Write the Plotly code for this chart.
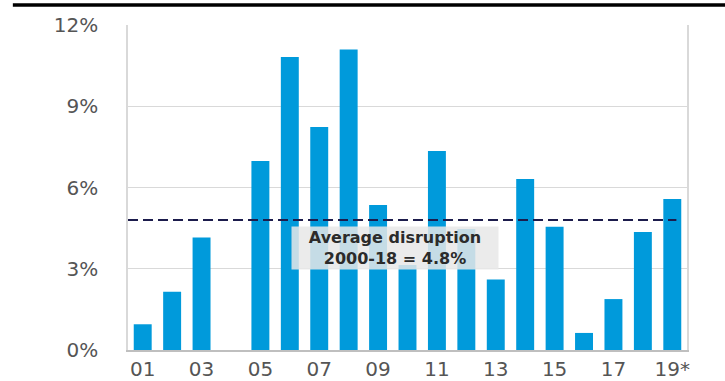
import plotly.graph_objects as go

# Annual disruption, share by year (2001-2019*)
YEARS = ["01", "02", "03", "04", "05", "06", "07", "08", "09", "10",
         "11", "12", "13", "14", "15", "16", "17", "18", "19*"]
DISRUPTION = [0.95, 2.15, 4.15, 0.0, 6.98, 10.82, 8.23, 11.1, 5.35, 3.14,
              7.35, 4.47, 2.6, 6.31, 4.55, 0.63, 1.88, 4.36, 5.58]
AVERAGE = 4.8
AVG_LABEL = "Average disruption<br>2000-18 = 4.8%"
Y_TICKS = [0, 3, 6, 9, 12]
Y_TICK_TEXT = ["0%", "3%", "6%", "9%", "12%"]
X_TICKS = YEARS[::2]

BAR_BLUE = "#009ADB"
GRID = "#d9d9d9"
TICK_FONT = dict(family="DejaVu Sans", size=20, color="#555555")

fig = go.Figure()
fig.add_trace(go.Bar(
    x=YEARS, y=DISRUPTION,
    marker=dict(color=BAR_BLUE, line=dict(width=0)),
    hoverinfo="skip",
))

# long-run average reference line
fig.add_shape(type="line", xref="paper", yref="y",
              x0=0, x1=0.981, y0=AVERAGE, y1=AVERAGE,
              line=dict(color="#1c1c4c", width=2, dash="10px,5px"))

# heavy rule across the top
fig.add_shape(type="line", xref="paper", yref="paper",
              x0=-0.206, x1=1.07, y0=1.0615, y1=1.0615,
              line=dict(color="#000000", width=3.5))

fig.add_annotation(
    xref="paper", yref="y", x=0.478, y=3.75,
    text=AVG_LABEL, showarrow=False,
    font=dict(family="DejaVu Sans", size=16, color="#2b2b2b", weight="bold"),
    bgcolor="rgba(232,232,232,0.85)", borderpad=1, align="center",
    width=204,
)

fig.update_layout(
    width=725, height=381,
    margin=dict(l=128, r=38, t=25, b=31),
    paper_bgcolor="white", plot_bgcolor="white",
    showlegend=False, bargap=0.39,
    xaxis=dict(
        type="category", tickmode="array", tickvals=X_TICKS,
        tickfont=TICK_FONT, showgrid=False, automargin=False,
        showline=True, linecolor="#bfbfbf", linewidth=1.5, mirror=False,
        ticks="", range=[-0.5, 18.5],
    ),
    yaxis=dict(
        range=[0, 12], tickvals=Y_TICKS, ticktext=Y_TICK_TEXT,
        tickfont=TICK_FONT, showgrid=True, gridcolor=GRID, gridwidth=1,
        showline=True, linecolor=GRID, linewidth=1.5, mirror=True,
        zeroline=False, ticks="", ticklabelstandoff=24, automargin=False,
    ),
)

fig.write_html("out.html")
